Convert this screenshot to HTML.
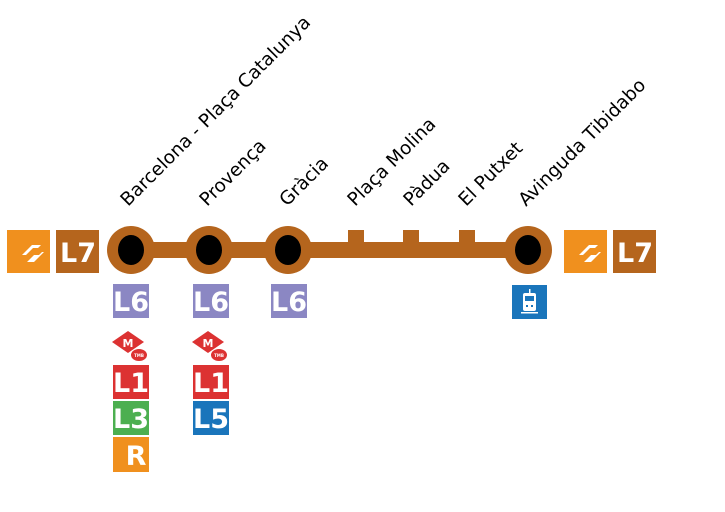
<!DOCTYPE html>
<html><head><meta charset="utf-8"><style>
html,body{margin:0;padding:0;background:#fff;}
svg{display:block;}
.lbl{font-family:"DejaVu Sans","Liberation Sans",sans-serif;font-size:18.5px;fill:#000;}
.b{font-family:"DejaVu Sans","Liberation Sans",sans-serif;font-weight:bold;fill:#fff;font-size:27px;}
</style></head><body>
<svg width="725" height="512" viewBox="0 0 725 512" xmlns="http://www.w3.org/2000/svg">
<g class="lbl">
<text transform="translate(128,207) rotate(-45)">Barcelona - Plaça Catalunya</text>
<text transform="translate(207,207) rotate(-45)">Provença</text>
<text transform="translate(287,207) rotate(-45)">Gràcia</text>
<text transform="translate(355,207) rotate(-45)">Plaça Molina</text>
<text transform="translate(411,207) rotate(-45)">Pàdua</text>
<text transform="translate(466,207) rotate(-45)">El Putxet</text>
<text transform="translate(526,207) rotate(-45)">Avinguda Tibidabo</text>
</g>
<rect x="131" y="242" width="397" height="16" fill="#b5651d"/>
<rect x="348" y="230" width="16" height="15" fill="#b5651d"/>
<rect x="403" y="230" width="16" height="15" fill="#b5651d"/>
<rect x="459" y="230" width="16" height="15" fill="#b5651d"/>
<g fill="#b5651d">
<circle cx="131" cy="250" r="24"/><circle cx="209" cy="250" r="24"/><circle cx="288" cy="250" r="24"/><circle cx="528" cy="250" r="24"/>
</g>
<g fill="#000">
<ellipse cx="131" cy="250" rx="13" ry="15"/><ellipse cx="209" cy="250" rx="13" ry="15"/><ellipse cx="288" cy="250" rx="13" ry="15"/><ellipse cx="528" cy="250" rx="13" ry="15"/>
</g>
<g>
<rect x="7" y="230" width="43" height="43" fill="#f0901e"/>
<path d="M22 255 l10 -10 h9 l-3 3 h-5 l-7 7 z M27 262 l7 -7 h5 l3 -3 h2 l-10 10 z" fill="#fff"/>
<rect x="56" y="230" width="43" height="43" fill="#b5651d"/>
<text class="b" x="78" y="262" text-anchor="middle" font-size="30">L7</text>
</g>
<g>
<rect x="564" y="230" width="43" height="43" fill="#f0901e"/>
<path d="M579 255 l10 -10 h9 l-3 3 h-5 l-7 7 z M584 262 l7 -7 h5 l3 -3 h2 l-10 10 z" fill="#fff"/>
<rect x="613" y="230" width="43" height="43" fill="#b5651d"/>
<text class="b" x="635" y="262" text-anchor="middle" font-size="30">L7</text>
</g>
<rect x="113" y="284" width="36" height="34" fill="#8b87c3"/><text class="b" x="131" y="311" text-anchor="middle">L6</text>
<path d="M128 331 l16 11 l-16 11 l-16 -11 z" fill="#dc3232"/><text x="128" y="347" text-anchor="middle" font-family="DejaVu Sans" font-weight="bold" font-size="11" fill="#fff">M</text>
<ellipse cx="139" cy="355" rx="8" ry="6" fill="#dc3232"/><text x="139" y="357" text-anchor="middle" font-family="DejaVu Sans" font-size="4" font-weight="bold" fill="#fff">TMB</text>
<rect x="113" y="365" width="36" height="34" fill="#dc3232"/><text class="b" x="131" y="392" text-anchor="middle">L1</text>
<rect x="113" y="401" width="36" height="34" fill="#4caf50"/><text class="b" x="131" y="428" text-anchor="middle">L3</text>
<rect x="113" y="437" width="36" height="35" fill="#f0901e"/><text class="b" x="136" y="465" text-anchor="middle">R</text>
<rect x="193" y="284" width="36" height="34" fill="#8b87c3"/><text class="b" x="211" y="311" text-anchor="middle">L6</text>
<path d="M208 331 l16 11 l-16 11 l-16 -11 z" fill="#dc3232"/><text x="208" y="347" text-anchor="middle" font-family="DejaVu Sans" font-weight="bold" font-size="11" fill="#fff">M</text>
<ellipse cx="219" cy="355" rx="8" ry="6" fill="#dc3232"/><text x="219" y="357" text-anchor="middle" font-family="DejaVu Sans" font-size="4" font-weight="bold" fill="#fff">TMB</text>
<rect x="193" y="365" width="36" height="34" fill="#dc3232"/><text class="b" x="211" y="392" text-anchor="middle">L1</text>
<rect x="193" y="401" width="36" height="34" fill="#1a75bb"/><text class="b" x="211" y="428" text-anchor="middle">L5</text>
<rect x="271" y="284" width="36" height="34" fill="#8b87c3"/><text class="b" x="289" y="311" text-anchor="middle">L6</text>
<rect x="512" y="285" width="35" height="34" fill="#1a75bb"/>
<g fill="#fff">
<rect x="529" y="289" width="1.5" height="4"/>
<rect x="523" y="293" width="13" height="18" rx="2"/>
<rect x="521" y="312" width="17" height="1.5"/>
</g>
<rect x="525" y="296" width="9" height="5" fill="#1a75bb"/>
<rect x="526" y="305" width="2" height="2" fill="#1a75bb"/><rect x="531" y="305" width="2" height="2" fill="#1a75bb"/>
</svg>
</body></html>
